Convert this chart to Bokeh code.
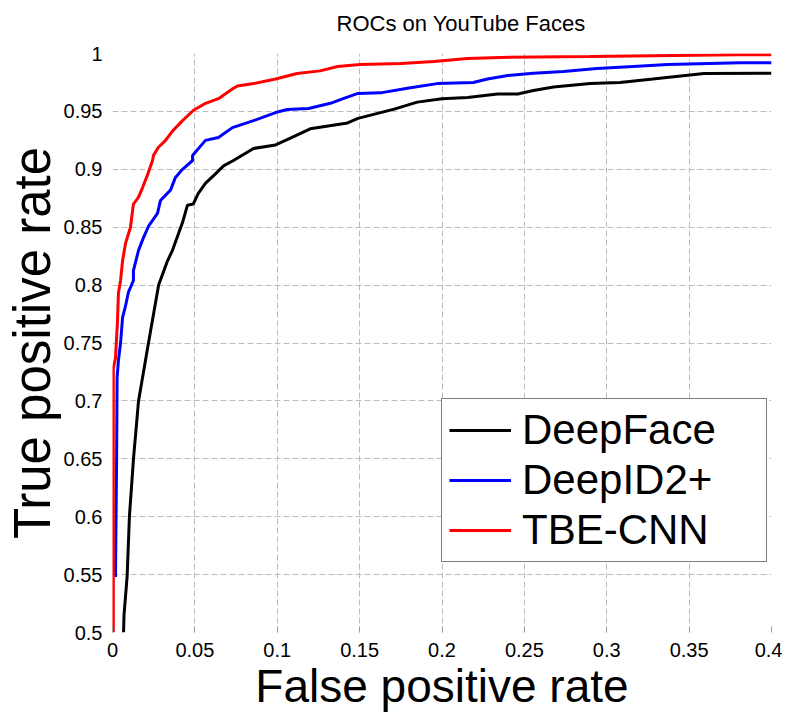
import math
from bokeh.plotting import figure
from bokeh.models import Range1d, FixedTicker, Legend, LegendItem, Title
from bokeh.embed import file_html
from bokeh.resources import INLINE

# ---- data ----
deepface_fpr = [0.0067, 0.0070, 0.0089, 0.0103, 0.0128, 0.0158, 0.0217, 0.028, 0.0334, 0.0364,
                0.0425, 0.0455, 0.049, 0.052, 0.0565, 0.0625, 0.0674, 0.0734, 0.0856, 0.099,
                0.108, 0.120, 0.1427, 0.149, 0.171, 0.185, 0.200, 0.2155, 0.2337, 0.246,
                0.2555, 0.2677, 0.29, 0.308, 0.328, 0.359, 0.4]
deepface_tpr = [0.5, 0.515, 0.549, 0.601, 0.651, 0.70, 0.749, 0.80, 0.821, 0.83,
                0.854, 0.869, 0.87, 0.879, 0.888, 0.896, 0.903, 0.9076, 0.918, 0.921,
                0.927, 0.935, 0.94, 0.944, 0.952, 0.958, 0.961, 0.962, 0.965, 0.965,
                0.968, 0.971, 0.974, 0.975, 0.978, 0.9827, 0.983]

deepid_fpr = [0.0018, 0.0025, 0.0028, 0.0036, 0.0049, 0.0061, 0.0079, 0.0097, 0.0127, 0.0127,
              0.0158, 0.0188, 0.0219, 0.0273, 0.0291, 0.0352, 0.0382, 0.0425, 0.0486, 0.0486,
              0.0564, 0.0643, 0.0728, 0.0856, 0.099, 0.106, 0.119, 0.1323, 0.140, 0.149,
              0.1627, 0.179, 0.197, 0.219, 0.2276, 0.24, 0.2555, 0.2737, 0.294, 0.316,
              0.337, 0.381, 0.4]
deepid_tpr = [0.548, 0.65, 0.72, 0.735, 0.75, 0.772, 0.782, 0.794, 0.804, 0.8126,
              0.83, 0.841, 0.851, 0.862, 0.873, 0.882, 0.893, 0.90, 0.9076, 0.912,
              0.925, 0.9275, 0.936, 0.942, 0.949, 0.9516, 0.9525, 0.957, 0.961, 0.9655,
              0.966, 0.97, 0.974, 0.975, 0.978, 0.981, 0.983, 0.9845, 0.987, 0.9888,
              0.9905, 0.992, 0.992]

tbe_fpr = [0.0005, 0.0005, 0.0018, 0.003, 0.0036, 0.0049, 0.0061, 0.0079, 0.0109, 0.0127,
           0.0158, 0.0182, 0.0212, 0.0243, 0.0249, 0.0279, 0.0322, 0.0364, 0.0425, 0.0492,
           0.0565, 0.0643, 0.0734, 0.076, 0.0856, 0.099, 0.112, 0.126, 0.1366, 0.1505,
           0.175, 0.195, 0.2155, 0.2355, 0.29, 0.3794, 0.4]
tbe_tpr = [0.5, 0.728, 0.737, 0.768, 0.793, 0.804, 0.821, 0.836, 0.85, 0.87,
           0.876, 0.884, 0.895, 0.9076, 0.912, 0.919, 0.925, 0.933, 0.942, 0.951,
           0.957, 0.961, 0.97, 0.972, 0.974, 0.978, 0.9827, 0.985, 0.9888, 0.9905,
           0.9914, 0.993, 0.9957, 0.9966, 0.9974, 0.999, 0.999]

series_names = ["DeepFace", "DeepID2+", "TBE-CNN"]
series_colors = ["#000000", "#0000ff", "#ff0000"]

x_ticks = [0, 0.05, 0.1, 0.15, 0.2, 0.25, 0.3, 0.35, 0.4]
x_tick_labels = ["0", "0.05", "0.1", "0.15", "0.2", "0.25", "0.3", "0.35", "0.4"]
y_ticks = [0.5, 0.55, 0.6, 0.65, 0.7, 0.75, 0.8, 0.85, 0.9, 0.95, 1.0]
y_tick_labels = ["0.5", "0.55", "0.6", "0.65", "0.7", "0.75", "0.8", "0.85", "0.9", "0.95", "1"]

FONT = "Liberation Sans"

p = figure(frame_width=659, frame_height=579,
           x_range=Range1d(0, 0.4), y_range=Range1d(0.5, 1.0),
           output_backend="svg", toolbar_location=None, title=None,
           min_border_left=112, min_border_right=11, min_border_top=53, min_border_bottom=84)
p.outline_line_color = None
p.background_fill_color = "white"
p.border_fill_color = "white"

# title, kept away from the frame by an empty spacer title placed closer to the frame
spacer = Title(text=" ", text_font=FONT, text_font_size="10px", standoff=0)
p.add_layout(spacer, "above")
main_title = Title(text="ROCs on YouTube Faces", text_font=FONT, text_font_size="22px",
                   text_font_style="normal", text_color="black", align="left", offset=224)
p.add_layout(main_title, "above")

# axes
p.xaxis.ticker = FixedTicker(ticks=x_ticks)
p.yaxis.ticker = FixedTicker(ticks=y_ticks)
p.xaxis.major_label_overrides = {t: s for t, s in zip(x_ticks, x_tick_labels)}
p.yaxis.major_label_overrides = {t: s for t, s in zip(y_ticks, y_tick_labels)}
for ax in (p.xaxis, p.yaxis):
    ax.axis_line_color = None
    ax.minor_tick_line_color = None
    ax.major_label_text_font = FONT
    ax.major_label_text_font_size = "20px"
    ax.major_label_text_color = "black"
    ax.axis_label_text_font = FONT
    ax.axis_label_text_font_style = "normal"
    ax.axis_label_text_color = "black"
p.xaxis.axis_label = "False positive rate"
p.yaxis.axis_label = "True positive rate"
p.xaxis.axis_label_text_font_size = "46px"
p.yaxis.axis_label_text_font_size = "51px"
p.xaxis.major_tick_line_color = "#9a9a9a"
p.xaxis.major_tick_in = 6
p.xaxis.major_tick_out = 0
p.xaxis.major_label_standoff = 10
p.xaxis.axis_label_standoff = 0
p.yaxis.major_tick_line_color = None
p.yaxis.major_tick_in = 0
p.yaxis.major_tick_out = 0
p.yaxis.major_label_standoff = 10
p.yaxis.axis_label_standoff = 0

# grid
for g in (p.xgrid, p.ygrid):
    g.grid_line_color = "#bcbcbc"
    g.grid_line_dash = "6 3"
    g.grid_line_width = 1

# curves
fprs = [deepface_fpr, deepid_fpr, tbe_fpr]
tprs = [deepface_tpr, deepid_tpr, tbe_tpr]
items = []
for name, color, xs, ys in zip(series_names, series_colors, fprs, tprs):
    r = p.line(xs, ys, line_color=color, line_width=3)
    items.append(LegendItem(label=name, renderers=[r]))

legend = Legend(items=items, location=(329, 70),
                label_text_font=FONT, label_text_font_size="42px", label_text_color="black",
                glyph_width=62, glyph_height=46, label_height=46, label_width=237,
                spacing=2, padding=7, margin=0, label_standoff=11,
                border_line_color="black", border_line_width=1,
                background_fill_color="white", background_fill_alpha=1.0)
p.add_layout(legend, "center")

open("out.html", "w").write(file_html(p, INLINE))
